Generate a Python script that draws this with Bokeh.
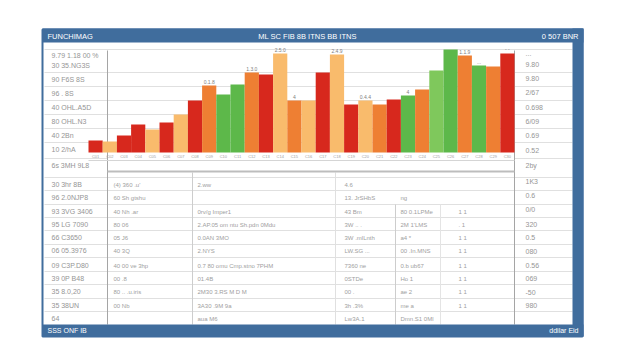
from bokeh.plotting import figure
from bokeh.models import Range1d
from bokeh.core.properties import value
from bokeh.embed import file_html
from bokeh.resources import INLINE

# ---------------- data ----------------
categories = ["C01", "C02", "C03", "C04", "C05", "C06", "C07", "C08", "C09", "C10",
              "C11", "C12", "C13", "C14", "C15", "C16", "C17", "C18", "C19", "C20",
              "C21", "C22", "C23", "C24", "C25", "C26", "C27", "C28", "C29", "C30"]
values = [12, 11, 17, 28, 23, 30, 38, 52, 67, 58,
          68, 80, 78, 99, 52, 52, 80, 98, 48, 52,
          48, 53, 57, 63, 82, 103, 97, 87, 86, 99]
RED, LOR, ORG, GRN, LGR = "#d7281d", "#f9bb6c", "#ee7f33", "#5db84a", "#7fc85c"
bar_colors = [RED, LOR, RED, RED, LOR, RED, LOR, RED, ORG, GRN,
              GRN, ORG, RED, LOR, ORG, LOR, RED, LOR, RED, LOR,
              ORG, RED, GRN, ORG, LGR, GRN, ORG, GRN, ORG, RED]
value_label_idx = [8, 11, 13, 14, 17, 19, 22, 26, 27, 29]
value_label_txt = ["0.1.8", "1.3.0", "2.5.0", "4", "2.4.9", "0.4.4", "4", "1.1.9", "...", "- -"]

title_left = "FUNCHIMAG"
title_center = "ML SC FIB 8B ITNS BB ITNS"
title_right = "0 507 BNR"
footer_left = "SSS ONF IB"
footer_right = "ddilar Eid"

left_rows = ["9.79 1.18 00 %", "30  35.NG3S", "90  F6S  8S", "96   .    8S", "40  OHL.A5D",
             "80  OHL.N3", "40  2Bn", "10  2/hA", "6s  3MH 9L8", "30  3hr 8B",
             "96  2.0NJP8", "93  3VG 3406", "95  LG 7090", "66     C3650", "06  05.3976",
             "09  C3P.D80", "39  0P    B48", "35  8.0,20", "35      38UN", "64"]
left_rows_y = [63, 73, 87, 101, 115, 129, 143, 157, 173, 192,
               205, 219, 232, 245, 258, 273, 286, 299, 313, 326]

right_rows = ["...", "9.80", "9.80", "2/67", "0.698", "6/09", "0.69", "0.52", "2by",
              "1K3", "0.6", "0/0", "320", "0.5", "080", "0.56", "069", "-50", "980"]
right_rows_y = [61, 72, 86, 100, 115, 129, 143, 158, 173,
                189, 203, 217, 232, 245, 259, 273, 286, 300, 313]

table_y = [192, 205, 219, 232, 245, 258, 273, 286, 299, 313, 326]
table_col_a = ["(4)  360  .u'", "60   Sh gtshu", "40   Nh  .ar", "80   06", "05   J6",
               "40   3Q", "40   00     ve 3hp", "00   .8", "80   ..  .u.iris", "00   Nb", ""]
table_col_b = ["2.ww", "", "0rv/g      Imper1", "2.AP.05   om ntu Sh.pdn  0Mdu",
               "0.0AN     3MO", "2.NYS", "0.7 80     omu  Cmp.stno  7PHM", "01.4B",
               "2M30      3.RS    M    D   M", "3A30                .9M    9a", "                     aua    M6"]
table_col_c = ["4.6", "13. JrSHbS", "43      Bm", "3W  ..  .", "3W .mlLnth",
               "LW.SG  ...", "7360    ne", "0STDe", "00     .", "3h   .3%", "Lw3A.1"]
table_col_d = ["", "ng", "80  0.1LPMe", "2M   1'LMS", "a4   *",
               "00  .In.MNS", "0.b   ub67", "Ho    1", "ae    2", "me    a", "Dmn.S1 0Ml"]
table_col_e = ["", "", "1     1", ".     1", "1     1",
               "1     1", "1     1", "1     1", "1     1", "1     1", ""]

upper_grid_y = [57, 80, 94, 108, 122, 136, 150]
lower_grid_y = [185, 198, 212, 225, 238, 252, 265, 279, 292, 306, 319]

# ---------------- figure (page-pixel coordinates for the frame) ----------------
p = figure(width=624, height=344, x_range=Range1d(8, 632), y_range=Range1d(352, 8),
           output_backend="svg", toolbar_location=None, min_border=0,
           x_axis_location=None, y_axis_location=None)
p.grid.visible = False
p.outline_line_color = None
p.background_fill_color = "white"
p.border_fill_color = "white"

BLUE = "#406d9d"
FONT = value("Liberation Sans")
GRAY = "#959595"

# panel
p.quad(left=[50], right=[590], top=[37], bottom=[344], fill_color="white",
       line_color=BLUE, line_width=2)

# grid lines
p.segment(x0=[52] * len(upper_grid_y), x1=[580] * len(upper_grid_y),
          y0=upper_grid_y, y1=upper_grid_y, line_color="#e0e0e0", line_width=1)
p.segment(x0=[52] * len(lower_grid_y), x1=[580] * len(lower_grid_y),
          y0=lower_grid_y, y1=lower_grid_y, line_color="#e0e0e0", line_width=1)
p.segment(x0=[52, 522], x1=[115, 580], y0=[166, 166], y1=[166, 166],
          line_color="#e0e0e0", line_width=1)

# vertical separators
p.segment(x0=[115, 522, 200, 343, 403, 448], x1=[115, 522, 200, 343, 403, 448],
          y0=[58, 58, 180, 180, 212, 212], y1=[332, 332, 332, 332, 332, 332],
          line_color=["#a5a5a5", "#a5a5a5", "#cdcdcd", "#e0e0e0", "#cdcdcd", "#e4e4e4"],
          line_width=1)

# bars through their own scales
W = 14.2
BX0 = 96.0
BASE = 160.0
p.extra_x_ranges = {"bx": Range1d((8 - BX0) / W - 0.5, (632 - BX0) / W - 0.5)}
p.extra_y_ranges = {"by": Range1d(BASE - 352, BASE - 8)}
xs = list(range(len(categories)))
p.vbar(x=xs, top=values, bottom=0, width=1.0, fill_color=bar_colors,
       line_color=None, x_range_name="bx", y_range_name="by")
p.text(x=value_label_idx, y=[values[i] + 2 for i in value_label_idx], text=value_label_txt,
       x_range_name="bx", y_range_name="by", text_font=FONT, text_font_size="5px",
       text_color="#808080", text_align="center", text_baseline="bottom")
# tiny category strip
p.text(x=xs, y=[-4] * len(xs), text=categories, x_range_name="bx", y_range_name="by",
       text_font=FONT, text_font_size="4px", text_color="#a0a0a0",
       text_align="center", text_baseline="middle")

# axis strip lines
p.segment(x0=[96, 115], x1=[522, 522], y0=[168, 179], y1=[168, 179],
          line_color=["#d5d5d5", "#bdbdbd"], line_width=[1, 2])

# title / footer bars
p.quad(left=[50], right=[591], top=[36], bottom=[50], fill_color=BLUE, line_color=None)
p.quad(left=[580], right=[591], top=[36], bottom=[344], fill_color=BLUE, line_color=None)
p.quad(left=[50], right=[591], top=[332], bottom=[344], fill_color=BLUE, line_color=None)
p.text(x=[55], y=[43.5], text=[title_left], text_font=FONT, text_font_size="7.5px",
       text_color="white", text_baseline="middle")
p.text(x=[315], y=[43.5], text=[title_center], text_font=FONT, text_font_size="7.5px",
       text_color="white", text_baseline="middle", text_align="center")
p.text(x=[586], y=[43.5], text=[title_right], text_font=FONT, text_font_size="7.5px",
       text_color="white", text_baseline="middle", text_align="right")
p.text(x=[55], y=[338], text=[footer_left], text_font=FONT, text_font_size="7px",
       text_color="white", text_baseline="middle")
p.text(x=[586], y=[338], text=[footer_right], text_font=FONT, text_font_size="7px",
       text_color="white", text_baseline="middle", text_align="right")

# side labels
p.text(x=[59] * len(left_rows), y=left_rows_y, text=left_rows, text_font=FONT,
       text_font_size="7px", text_color=GRAY, text_baseline="middle")
p.text(x=[533] * len(right_rows), y=right_rows_y, text=right_rows, text_font=FONT,
       text_font_size="7px", text_color=GRAY, text_baseline="middle")

# lower table cells
for cx, col in [(121, table_col_a), (205, table_col_b), (352, table_col_c),
                (408, table_col_d), (466, table_col_e)]:
    p.text(x=[cx] * len(col), y=table_y, text=col, text_font=FONT, text_font_size="6px",
           text_color="#a0a0a0", text_baseline="middle")

open("out.html", "w").write(file_html(p, INLINE))
